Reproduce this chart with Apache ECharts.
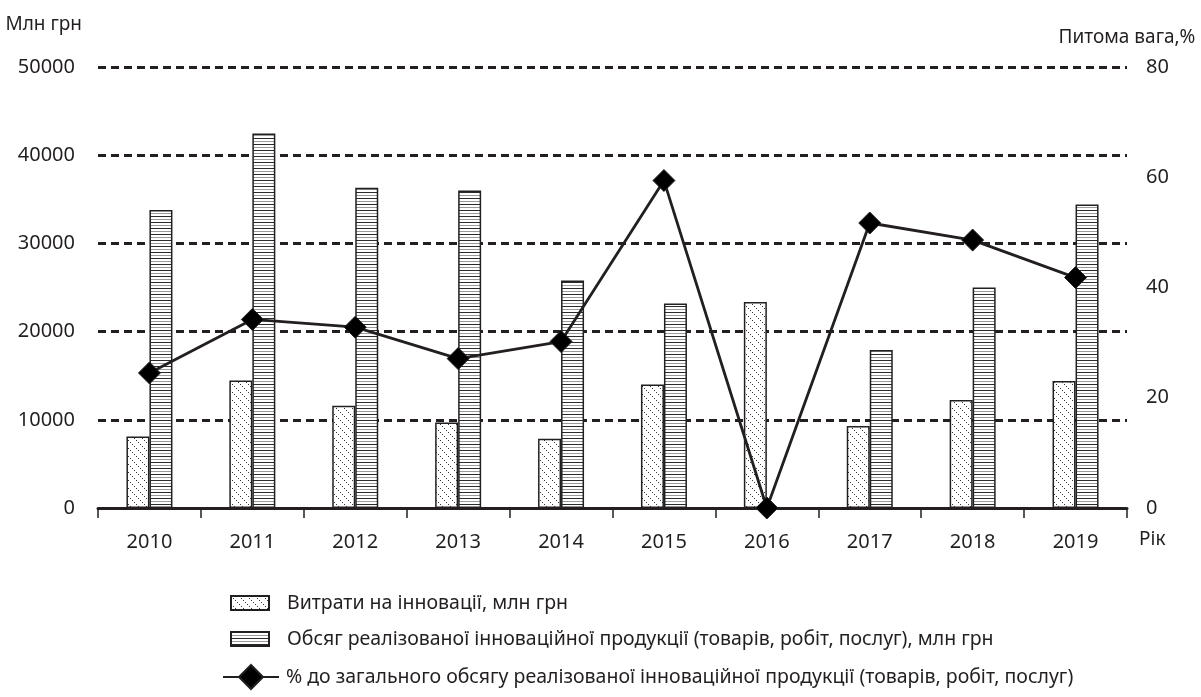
<!DOCTYPE html>
<html>
<head>
<meta charset="utf-8">
<script src="https://cdn.jsdelivr.net/npm/echarts@6/dist/echarts.min.js"></script>
<style>
html,body{margin:0;padding:0;background:#fff;}
#chart{width:1201px;height:697px;}
</style>
</head>
<body>
<div id="chart"></div>
<script>
const years = ['2010','2011','2012','2013','2014','2015','2016','2017','2018','2019'];
const expenses = [8100, 14450, 11600, 9700, 7850, 14000, 23350, 9300, 12250, 14400];
const sales = [33800, 42450, 36300, 36000, 25800, 23200, null, 17900, 25000, 34400];
const shares = [24.5, 34.2, 32.8, 27.1, 30.2, 59.4, 0, 51.7, 48.6, 41.8];
const leftTicks = {min: 0, max: 50000, interval: 10000};
const rightTicks = {min: 0, max: 80, interval: 20};

const names = ['Витрати на інновації, млн грн',
  'Обсяг реалізованої інноваційної продукції (товарів, робіт, послуг), млн грн',
  '% до загального обсягу реалізованої інноваційної продукції (товарів, робіт, послуг)'];

function makeHatch(){
  const c = document.createElement('canvas');
  c.width = 8; c.height = 8;
  const g = c.getContext('2d');
  g.fillStyle = '#ffffff'; g.fillRect(0,0,8,8);
  g.fillStyle = '#3a3a3a';
  for (let i = 0; i < 8; i += 2) { g.fillRect(i, i, 1, 1); }
  return c;
}
function makeStripes(){
  const c = document.createElement('canvas');
  c.width = 4; c.height = 6;
  const g = c.getContext('2d');
  g.fillStyle = '#ffffff'; g.fillRect(0,0,4,6);
  g.fillStyle = '#2a2a2a'; g.fillRect(0,0,4,1);
  g.fillStyle = '#9a9a9a'; g.fillRect(0,3,4,1);
  return c;
}
const hatch = {image: makeHatch(), repeat: 'repeat'};
const stripes = {image: makeStripes(), repeat: 'repeat'};

const FONT = 'Noto Sans';
const TXT = '#231f20';

const chart = echarts.init(document.getElementById('chart'));
chart.setOption({
  animation: false,
  backgroundColor: '#fff',
  textStyle: {fontFamily: FONT, color: TXT},
  grid: {left: 98, right: 74, top: 67, bottom: 189, containLabel: false},
  legend: [
    {data: [names[0]], left: 225, top: 588, orient: 'vertical', itemWidth: 38, itemHeight: 14, icon: 'rect',
     textStyle: {fontFamily: FONT, fontSize: 19.5, color: TXT, padding: [0,0,0,13]}},
    {data: [names[1]], left: 225, top: 624, orient: 'vertical', itemWidth: 38, itemHeight: 14, icon: 'rect',
     textStyle: {fontFamily: FONT, fontSize: 19.5, color: TXT, padding: [0,0,0,13]}},
    {data: [names[2]], left: 217, top: 659, orient: 'vertical', itemWidth: 56, itemHeight: 30,
     textStyle: {fontFamily: FONT, fontSize: 19.5, color: TXT, padding: [0,0,0,2]}}
  ],
  xAxis: {
    type: 'category', data: years,
    name: 'Рік', nameLocation: 'end', nameGap: 12,
    nameTextStyle: {fontFamily: FONT, fontSize: 19, color: TXT, verticalAlign: 'top', align: 'left', padding: [22,0,0,0]},
    axisLine: {show: true, lineStyle: {color: TXT, width: 3}},
    axisTick: {show: true, length: 10, lineStyle: {color: TXT, width: 1.5}},
    axisLabel: {fontFamily: FONT, fontSize: 20, color: TXT, margin: 24},
    splitLine: {show: false}
  },
  yAxis: [
    {type: 'value', min: leftTicks.min, max: leftTicks.max, interval: leftTicks.interval,
     name: 'Млн грн', nameLocation: 'end', nameGap: 33,
     nameTextStyle: {fontFamily: FONT, fontSize: 19, color: TXT, align: 'right', padding: [0, 16, 0, 0]},
     axisLine: {show: false}, axisTick: {show: false},
     axisLabel: {fontFamily: FONT, fontSize: 20, color: TXT, margin: 23, formatter: v => String(v)},
     splitLine: {show: true, lineStyle: {color: '#231f20', width: 3, type: [8, 5]}}
    },
    {type: 'value', min: rightTicks.min, max: rightTicks.max, interval: rightTicks.interval, position: 'right',
     name: 'Питома вага,%', nameLocation: 'end', nameGap: 20,
     nameTextStyle: {fontFamily: FONT, fontSize: 19, color: TXT},
     axisLine: {show: false}, axisTick: {show: false},
     axisLabel: {fontFamily: FONT, fontSize: 20, color: TXT, margin: 19},
     splitLine: {show: false}
    }
  ],
  series: [
    {name: names[0], type: 'bar', data: expenses, barWidth: 23, barGap: '0%', yAxisIndex: 0,
     itemStyle: {color: hatch, borderColor: TXT, borderWidth: 1.5}},
    {name: names[1], type: 'bar', data: sales, barWidth: 23, barGap: '0%', yAxisIndex: 0,
     itemStyle: {color: stripes, borderColor: TXT, borderWidth: 1.5}},
    {name: names[2], type: 'line', data: shares, yAxisIndex: 1, z: 5,
     symbol: 'diamond', symbolSize: 22,
     lineStyle: {color: TXT, width: 2.8},
     itemStyle: {color: '#000', borderColor: TXT, borderWidth: 1}}
  ]
});
</script>
</body>
</html>
